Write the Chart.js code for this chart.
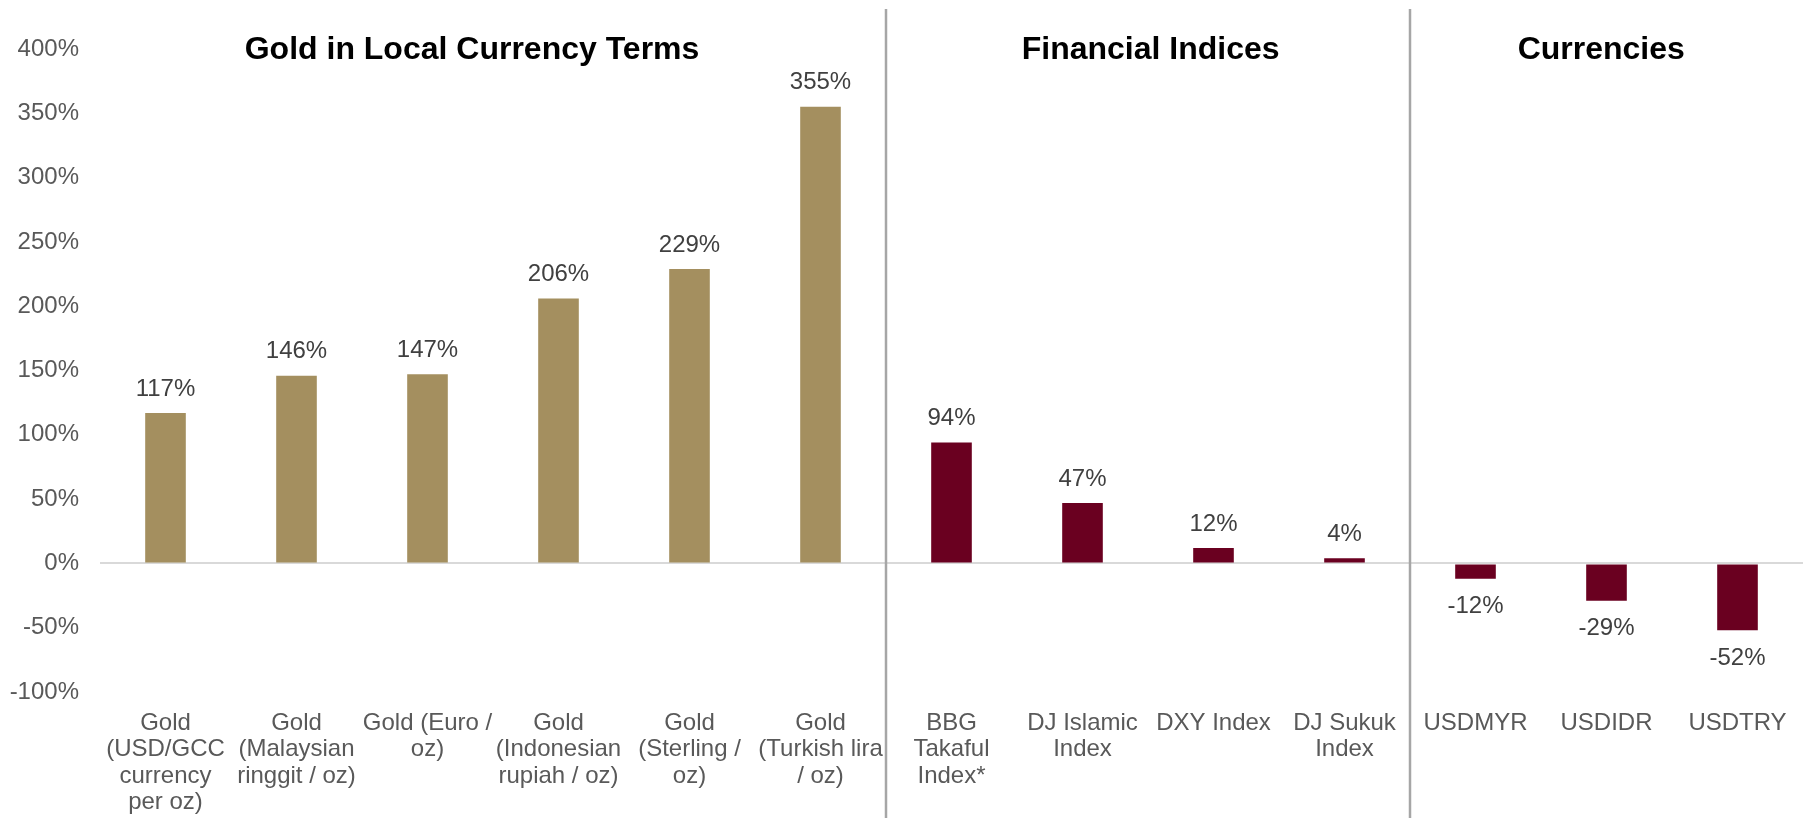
<!DOCTYPE html>
<html>
<head>
<meta charset="utf-8">
<script src="https://cdn.jsdelivr.net/npm/chart.js@4"></script>
<style>
  body { margin: 0; background: #fff; }
  #wrap { width: 1806px; height: 818px; position: relative; }
</style>
</head>
<body>
<div id="wrap"><canvas id="chart"></canvas></div>
<script>
// Chart data
const categories = [
  ['Gold', '(USD/GCC', 'currency', 'per oz)'],
  ['Gold', '(Malaysian', 'ringgit / oz)'],
  ['Gold (Euro /', 'oz)'],
  ['Gold', '(Indonesian', 'rupiah / oz)'],
  ['Gold', '(Sterling /', 'oz)'],
  ['Gold', '(Turkish lira', '/ oz)'],
  ['BBG', 'Takaful', 'Index*'],
  ['DJ Islamic', 'Index'],
  ['DXY Index'],
  ['DJ Sukuk', 'Index'],
  ['USDMYR'],
  ['USDIDR'],
  ['USDTRY']
];
const values = [117, 146, 147, 206, 229, 355, 94, 47, 12, 4, -12, -29, -52];
const groups = ['gold', 'gold', 'gold', 'gold', 'gold', 'gold', 'index', 'index', 'index', 'index', 'fx', 'fx', 'fx'];
const groupTitles = ['Gold in Local Currency Terms', 'Financial Indices', 'Currencies'];

const GOLD = '#A48F5F';
const MAROON = '#6A0020';
const FONT = '"Liberation Sans", Arial, sans-serif';

// Labels above / below each bar
const valueLabels = {
  id: 'valueLabels',
  afterDatasetsDraw(chart) {
    const ctx = chart.ctx;
    const meta = chart.getDatasetMeta(0);
    ctx.save();
    ctx.font = '24px ' + FONT;
    ctx.fillStyle = '#404040';
    ctx.textAlign = 'center';
    ctx.textBaseline = 'middle';
    meta.data.forEach((bar, i) => {
      const v = values[i];
      const y = v >= 0 ? bar.y - 24 : bar.y + 28;
      ctx.fillText(v + '%', bar.x, y);
    });
    ctx.restore();
  }
};

// Section separators and titles
const sections = {
  id: 'sections',
  beforeDatasetsDraw(chart) {
    const ctx = chart.ctx;
    const x = chart.scales.x;
    ctx.save();
    ctx.strokeStyle = '#A6A6A6';
    ctx.lineWidth = 2.5;
    [5, 9].forEach(i => {
      const px = Math.round((x.getPixelForValue(i) + x.getPixelForValue(i + 1)) / 2);
      ctx.beginPath();
      ctx.moveTo(px, 9);
      ctx.lineTo(px, chart.height);
      ctx.stroke();
    });
    ctx.font = 'bold 32px ' + FONT;
    ctx.fillStyle = '#000';
    ctx.textAlign = 'center';
    ctx.textBaseline = 'middle';
    const centers = [2.34, 7.52, 10.96];
    groupTitles.forEach((t, i) => {
      ctx.fillText(t, x.getPixelForValue(centers[i]), 50);
    });
    ctx.restore();
  }
};

new Chart(document.getElementById('chart'), {
  type: 'bar',
  data: {
    labels: categories,
    datasets: [{
      data: values,
      backgroundColor: groups.map(g => g === 'gold' ? GOLD : MAROON),
      categoryPercentage: 1,
      barPercentage: 0.31
    }]
  },
  options: {
    responsive: true,
    maintainAspectRatio: false,
    animation: false,
    layout: { padding: { top: 49, right: 3, left: 0, bottom: 0 } },
    plugins: {
      legend: { display: false },
      tooltip: { enabled: false }
    },
    scales: {
      x: {
        grid: { display: false },
        border: { display: false },
        ticks: {
          color: '#595959',
          font: { family: FONT, size: 24, lineHeight: 1.1 },
          maxRotation: 0,
          autoSkip: false,
          padding: 10
        },
        afterFit: s => { s.height = 126; }
      },
      y: {
        min: -100,
        max: 400,
        border: { display: false },
        grid: {
          drawTicks: false,
          lineWidth: 2,
          color: c => c.tick && c.tick.value === 0 ? '#D9D9D9' : 'rgba(0,0,0,0)'
        },
        ticks: {
          stepSize: 50,
          color: '#595959',
          padding: 21,
          font: { family: FONT, size: 24 },
          callback: v => v + '%'
        },
        afterFit: s => { s.width = 100; }
      }
    }
  },
  plugins: [sections, valueLabels]
});
</script>
</body>
</html>
